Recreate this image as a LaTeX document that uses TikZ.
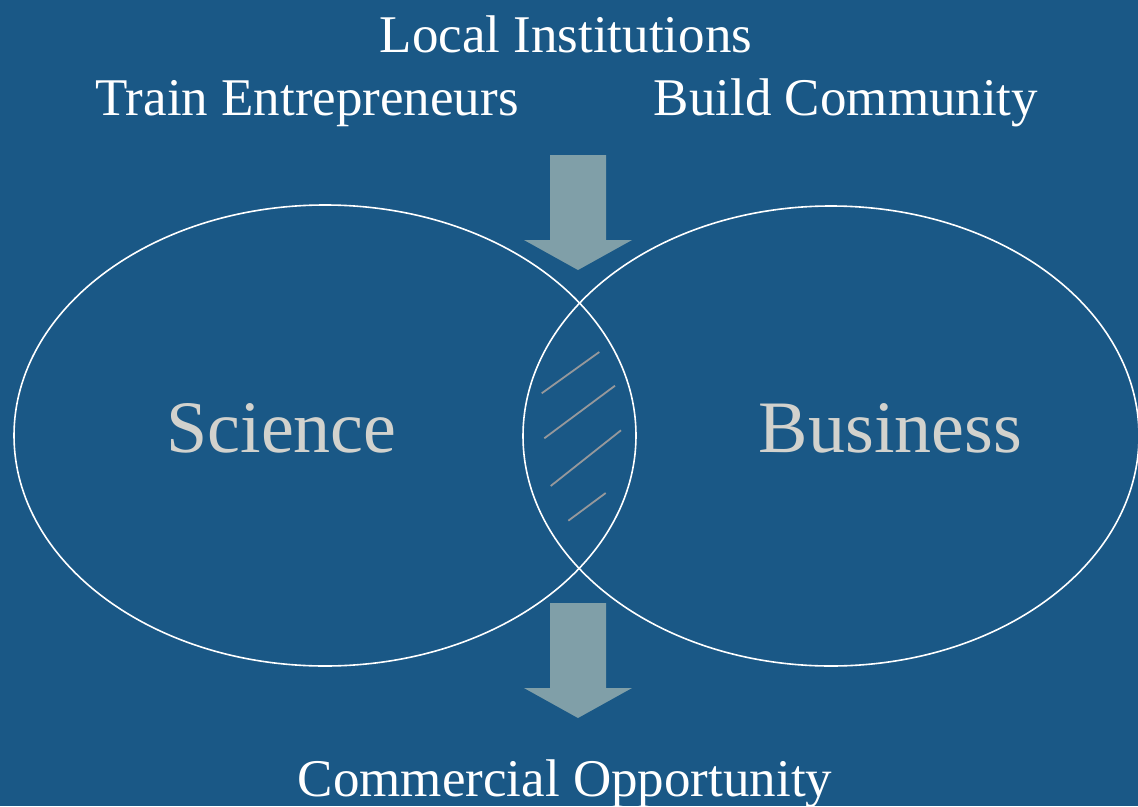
\documentclass[tikz,border=0pt]{standalone}
\usepackage{fontspec}
\setmainfont{Liberation Serif}
\definecolor{slideblue}{RGB}{26,88,134}
\definecolor{arrowgrey}{RGB}{128,159,168}
\definecolor{labelgrey}{RGB}{210,210,205}
\definecolor{hatchgrey}{RGB}{150,152,155}
\tikzset{
  venn/.style={draw=white,line width=1.6pt},
  heading/.style={anchor=base,inner sep=0pt,text=white,font=\fontsize{53}{60}\selectfont},
  setlabel/.style={anchor=base,inner sep=0pt,text=labelgrey,font=\fontsize{74}{80}\selectfont}
}

\begin{document}
\begin{tikzpicture}[x=1pt,y=-1pt]
      \fill[slideblue] (0,0) rectangle (1138,806);
      \useasboundingbox (0,0) rectangle (1138,806);
      % the two sets
      \draw[venn] (325,435.5) ellipse [x radius=311pt,y radius=230.5pt];
      \draw[venn] (831,436) ellipse [x radius=308pt,y radius=230pt];
      % hatching of the overlap
      \foreach \xa/\ya/\xb/\yb in {541.7/393.3/599.3/352, 544.3/438.3/615/385.7,
                                   550.7/486/621/430.3, 568.3/520.7/605.7/493}
        \draw[hatchgrey,line width=1.8pt] (\xa,\ya) -- (\xb,\yb);
      % block arrows into and out of the overlap
      \foreach \top in {155,603}
        \fill[arrowgrey] (550,\top) -- (606,\top) -- (606,\top+85) -- (632,\top+85)
          -- (578,\top+115) -- (524,\top+85) -- (550,\top+85) -- cycle;
      \node[heading] (local) at (566,52) {Local Institutions};
      \node[heading] (train) at (307,115) {Train Entrepreneurs};
      \node[heading] (build) at (846,115) {Build Community};
      \node[setlabel] (science) at (281.5,452) {Science};
      \node[setlabel] (business) at (890.5,452) {Business};
      \node[heading] (commercial) at (565,796) {Commercial Opportunity};
    \end{tikzpicture}
\end{document}
